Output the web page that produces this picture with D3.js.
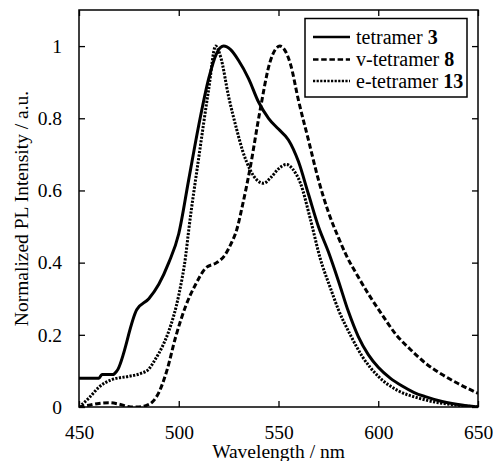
<!DOCTYPE html>
<html>
<head>
<meta charset="utf-8">
<script src="https://cdn.jsdelivr.net/npm/d3@7"></script>
<style>
  html, body { margin: 0; padding: 0; background: #fff; }
  svg { display: block; }
</style>
</head>
<body>
<svg id="chart" width="493" height="461"></svg>
<script>
// ---- data ----
const tetramer3 = [
  [450,0.08],[460,0.08],[461.5,0.09],[467,0.09],[469,0.10],[479,0.27],[485,0.30],[490,0.34],
  [495,0.40],[500,0.48],[505,0.63],[510,0.78],[515,0.91],[519,0.98],[522.5,1.0],[526,0.99],
  [530,0.96],[535,0.91],[540,0.845],[545,0.80],[550,0.77],[555,0.74],[560,0.68],[565,0.59],
  [570,0.50],[575,0.43],[580,0.35],[585,0.265],[590,0.195],[595,0.145],[600,0.11],[606,0.08],
  [612,0.058],[618,0.04],[624,0.028],[630,0.018],[640,0.007],[650,0.0]
];
const vtetramer8 = [
  [450,0],[455,0.005],[460,0.01],[465,0.012],[470,0.008],[476,0.0],[480,0.0],[483,0.003],
  [487,0.015],[490,0.04],[494,0.10],[498.5,0.195],[503.5,0.28],[508.5,0.34],[513.5,0.385],
  [519,0.40],[523,0.42],[526,0.45],[529,0.49],[532,0.56],[535.7,0.66],[540.7,0.82],
  [545.7,0.955],[550.7,1.0],[556,0.95],[560,0.85],[565,0.74],[570,0.63],[575,0.54],
  [580,0.47],[584,0.42],[590,0.36],[596,0.305],[602,0.255],[609,0.20],[616,0.16],[624,0.12],
  [632,0.09],[640,0.065],[650,0.038]
];
const etetramer13 = [
  [450,0],[455,0.025],[460,0.055],[466,0.075],[475,0.085],[481,0.093],[485,0.105],[488,0.13],
  [492,0.17],[495,0.21],[500,0.31],[503.5,0.42],[505,0.49],[510,0.69],[515,0.88],[518.5,1.0],
  [521,0.97],[525,0.86],[529,0.77],[532,0.71],[536,0.655],[539,0.63],[542.5,0.62],[546,0.635],
  [550,0.66],[554,0.672],[557,0.66],[561,0.62],[566,0.52],[571,0.41],[576,0.33],[580,0.27],
  [586,0.20],[592,0.14],[600,0.085],[610,0.045],[620,0.025],[630,0.012],[640,0.005],[650,0]
];
const seriesNames = ["tetramer ", "v-tetramer ", "e-tetramer "];
const seriesNums = ["3", "8", "13"];
const xTicks = [450, 500, 550, 600, 650];
const yTicks = [0, 0.2, 0.4, 0.6, 0.8, 1];
const yTickLabels = ["0", "0.2", "0.4", "0.6", "0.8", "1"];

// ---- layout ----
const FONT = "Liberation Serif";
const svg = d3.select("#chart");
const L = 79, R = 478, T = 10, B = 407;
const x = d3.scaleLinear().domain([450, 650]).range([L, R]);
const y = d3.scaleLinear().domain([0, 1.1]).range([B, T]);
const fs = 19.5;

const series = [
  { data: tetramer3, dash: null },
  { data: vtetramer8, dash: "5.5,2.7" },
  { data: etetramer13, dash: "2.2,1.4" }
];

const line = d3.line().x(d => x(d[0])).y(d => y(d[1])).curve(d3.curveMonotoneX);

svg.append("clipPath").attr("id", "clip")
  .append("rect").attr("x", L).attr("y", T).attr("width", R - L).attr("height", B - T);

const g = svg.append("g").attr("clip-path", "url(#clip)");
series.forEach(s => {
  g.append("path").datum(s.data)
    .attr("d", line)
    .attr("fill", "none")
    .attr("stroke", "#000")
    .attr("stroke-width", 3)
    .attr("stroke-dasharray", s.dash)
    .attr("stroke-linejoin", "round");
});

// ---- axes (ticks inward on all four sides) ----
const tl = 6;
svg.append("g").attr("transform", `translate(0,${B})`)
  .call(d3.axisBottom(x).tickValues(xTicks).tickSizeInner(-tl).tickSizeOuter(0).tickPadding(tl + 12))
  .call(a => a.select(".domain").remove());
svg.append("g").attr("transform", `translate(0,${T})`)
  .call(d3.axisTop(x).tickValues(xTicks).tickSizeInner(-tl).tickSizeOuter(0).tickFormat(""))
  .call(a => a.select(".domain").remove());
svg.append("g").attr("transform", `translate(${L},0)`)
  .call(d3.axisLeft(y).tickValues(yTicks).tickSizeInner(-tl).tickSizeOuter(0).tickPadding(tl + 11)
    .tickFormat((d, i) => yTickLabels[i]))
  .call(a => a.select(".domain").remove());
svg.append("g").attr("transform", `translate(${R},0)`)
  .call(d3.axisRight(y).tickValues(yTicks).tickSizeInner(-tl).tickSizeOuter(0).tickFormat(""))
  .call(a => a.select(".domain").remove());

svg.selectAll("g").attr("font-family", FONT);
svg.selectAll(".tick line").attr("stroke", "#000").attr("stroke-width", 1.3);
svg.selectAll(".tick text").attr("font-size", fs).attr("font-family", FONT).attr("fill", "#000");

svg.append("rect").attr("x", L).attr("y", T).attr("width", R - L).attr("height", B - T)
  .attr("fill", "none").attr("stroke", "#000").attr("stroke-width", 1.5);

// axis titles
svg.append("text").attr("x", (L + R) / 2).attr("y", 458).attr("text-anchor", "middle")
  .attr("font-family", FONT).attr("font-size", fs).text("Wavelength / nm");
svg.append("text").attr("transform", `translate(28,${(T + B) / 2}) rotate(-90)`)
  .attr("text-anchor", "middle").attr("font-family", FONT).attr("font-size", fs)
  .text("Normalized PL Intensity / a.u.");

// ---- legend ----
const lg = svg.append("g").attr("font-family", FONT);
lg.append("rect").attr("x", 305).attr("y", 18.5).attr("width", 162).attr("height", 78.5)
  .attr("fill", "#fff").attr("stroke", "#000").attr("stroke-width", 1.5);
const rowY = [37, 59.5, 81];
series.forEach((s, i) => {
  lg.append("line").attr("x1", 313).attr("x2", 350).attr("y1", rowY[i]).attr("y2", rowY[i])
    .attr("stroke", "#000").attr("stroke-width", 2.5).attr("stroke-dasharray", s.dash);
  const t = lg.append("text").attr("x", 356).attr("y", rowY[i] + 6.5)
    .attr("font-family", FONT).attr("font-size", 20);
  t.append("tspan").text(seriesNames[i]);
  t.append("tspan").attr("font-weight", "bold").text(seriesNums[i]);
});
</script>
</body>
</html>
